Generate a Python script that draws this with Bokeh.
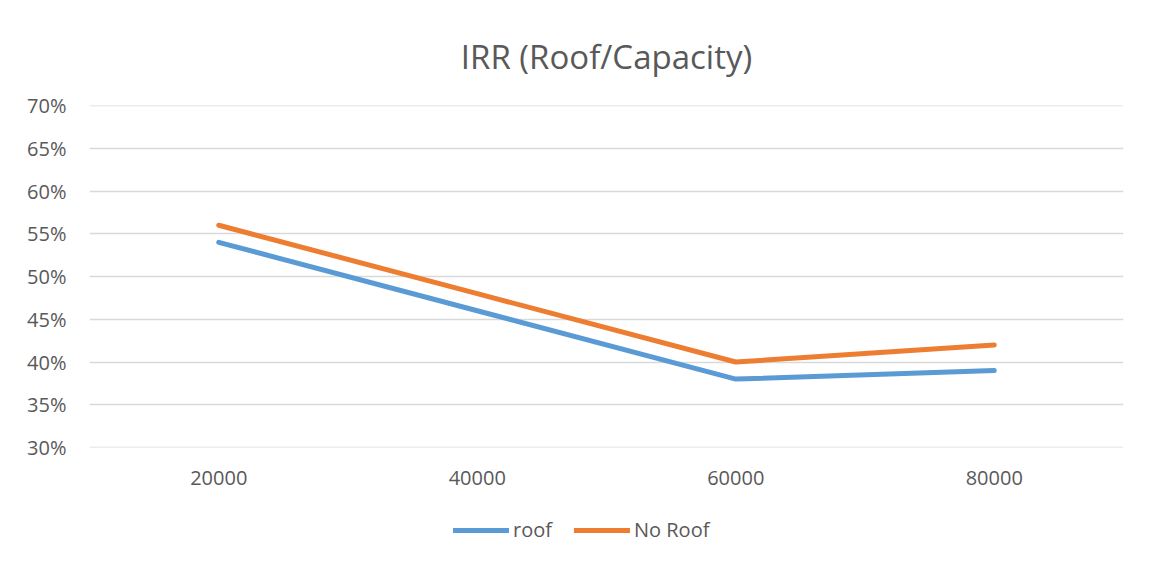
from bokeh.plotting import figure
from bokeh.layouts import column
from bokeh.models import FactorRange, Range1d, NumeralTickFormatter, SingleIntervalTicker, Legend, LegendItem, Title
from bokeh.embed import file_html
from bokeh.resources import INLINE

categories = ["20000", "40000", "60000", "80000"]
roof = [0.54, 0.46, 0.38, 0.39]
no_roof = [0.56, 0.48, 0.40, 0.42]
series_names = ["roof", "No Roof"]
colors = ["#5B9BD5", "#ED7D31"]

FONT = "Open Sans"
TXT = "#595959"

p = figure(width=1141, height=500, x_range=FactorRange(*categories), y_range=Range1d(0.30, 0.7001),
           output_backend="svg", toolbar_location=None,
           min_border_left=89, min_border_right=18, min_border_top=105, min_border_bottom=53)
p.outline_line_color = None
p.background_fill_color = "white"
p.border_fill_color = "white"

t = Title(text="IRR (Roof/Capacity)", align="center", text_font=FONT, text_font_size="33px",
          text_font_style="normal", text_color=TXT, standoff=54)
p.add_layout(t, "above")

p.yaxis.ticker = SingleIntervalTicker(interval=0.05)
p.yaxis.formatter = NumeralTickFormatter(format="0%")
for ax in (p.xaxis[0], p.yaxis[0]):
    ax.axis_line_color = None
    ax.major_tick_line_color = None
    ax.minor_tick_line_color = None
    ax.major_label_text_font = FONT
    ax.major_label_text_font_size = "20px"
    ax.major_label_text_color = TXT
p.yaxis.major_label_standoff = 17
p.xaxis.major_label_standoff = 17

p.xgrid.grid_line_color = None
p.ygrid.grid_line_color = "#D9D9D9"
p.ygrid.grid_line_width = 1.5

p.line(categories, roof, line_color=colors[0], line_width=5, line_cap="round", line_join="round")
p.line(categories, no_roof, line_color=colors[1], line_width=5, line_cap="round", line_join="round")

# legend strip below the chart
q = figure(width=1141, height=60, x_range=FactorRange(*categories), y_range=Range1d(0.30, 0.7001),
           output_backend="svg", toolbar_location=None, x_axis_type=None, y_axis_type=None,
           min_border_left=0, min_border_right=0, min_border_top=0, min_border_bottom=0)
q.outline_line_color = None
q.border_fill_color = "white"
q.background_fill_color = "white"
l1 = q.line(categories, roof, line_color=colors[0], line_width=5, line_cap="round", visible=False)
l2 = q.line(categories, no_roof, line_color=colors[1], line_width=5, line_cap="round", visible=False)
legend = Legend(items=[LegendItem(label=series_names[0], renderers=[l1]),
                       LegendItem(label=series_names[1], renderers=[l2])],
                orientation="horizontal", location=(364, 17),
                border_line_color=None, background_fill_alpha=0, inactive_fill_alpha=0,
                label_text_font=FONT, label_text_font_size="20px", label_text_color=TXT,
                glyph_width=56, label_standoff=4, spacing=22, padding=0, margin=0)
q.add_layout(legend, "center")

open("out.html", "w").write(file_html(column(p, q, spacing=0), INLINE))
